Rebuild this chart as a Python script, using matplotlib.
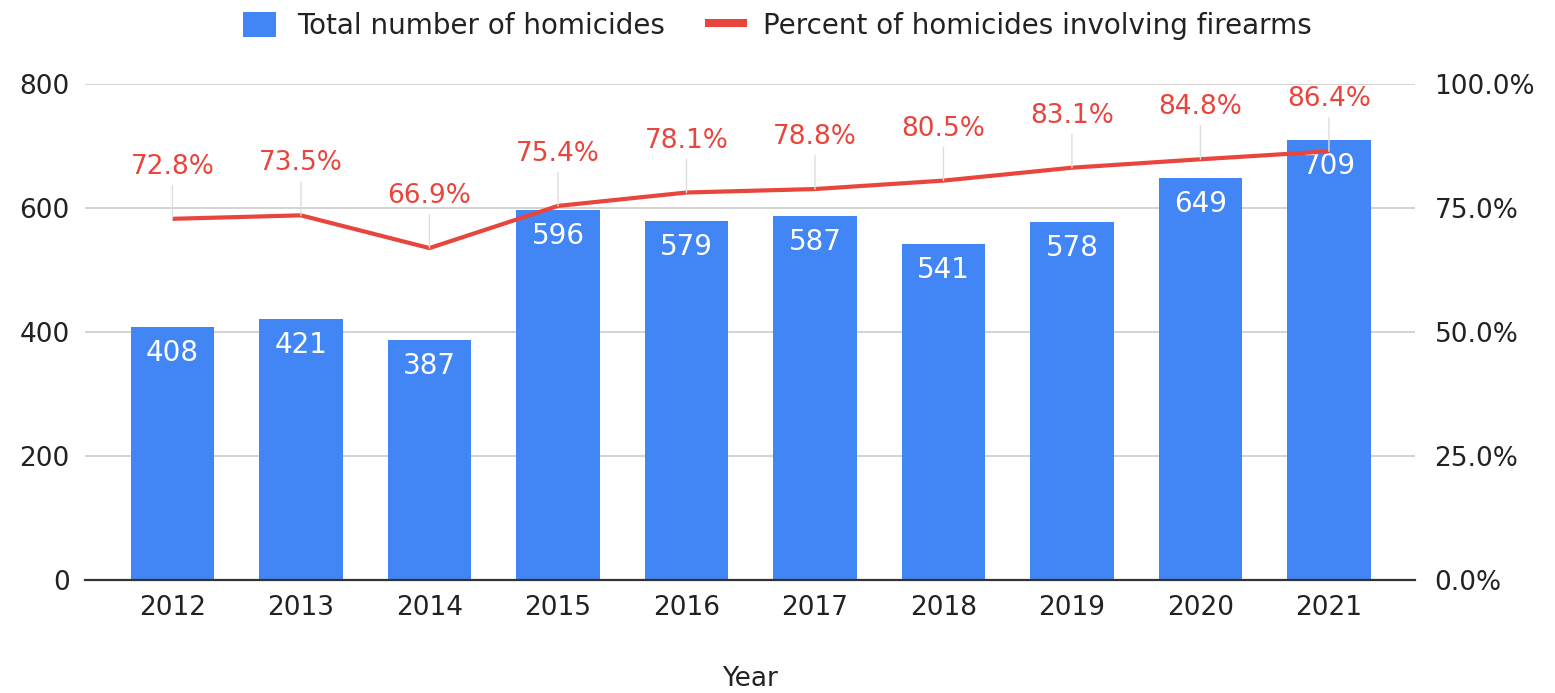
import matplotlib.pyplot as plt
from matplotlib.patches import Patch
from matplotlib.lines import Line2D

# data
years = ["2012", "2013", "2014", "2015", "2016", "2017", "2018", "2019", "2020", "2021"]
homicides = [408, 421, 387, 596, 579, 587, 541, 578, 649, 709]
pct_firearms = [72.8, 73.5, 66.9, 75.4, 78.1, 78.8, 80.5, 83.1, 84.8, 86.4]

left_ticks = [0, 200, 400, 600, 800]
right_ticks = [0, 25, 50, 75, 100]

blue = "#4285F4"
red = "#E8453C"
txt = "#222222"

plt.rcParams["font.family"] = ["DejaVu Sans"]

fig = plt.figure(figsize=(15.55, 6.93), dpi=100)
ax = fig.add_axes([0.0547, 0.163, 0.8553, 0.716])
x = list(range(len(years)))

ax.bar(x, homicides, width=0.65, color=blue, zorder=2)
ax.set_xlim(-0.68, 9.67)
ax.set_ylim(0, 800)
ax.set_yticks(left_ticks)
ax.set_xticks(x)
ax.set_xticklabels(years)
ax.grid(axis="y", color="#cccccc", lw=1.2, zorder=0)
ax.set_axisbelow(True)
for s in ("top", "left", "right"):
    ax.spines[s].set_visible(False)
ax.spines["bottom"].set_color("#333333")
ax.spines["bottom"].set_linewidth(1.6)
ax.spines["bottom"].set_zorder(3)
ax.tick_params(axis="both", length=0, labelsize=19, colors=txt)
ax.tick_params(axis="y", pad=11)
ax.tick_params(axis="x", pad=11)

for xi, v in zip(x, homicides):
    ax.annotate(str(v), (xi, v), xytext=(0, -26), textcoords="offset pixels",
                ha="center", va="center", color="white", fontsize=20, zorder=4)

ax2 = ax.twinx()
ax2.set_ylim(0, 100)
ax2.set_yticks(right_ticks)
ax2.set_yticklabels([f"{t:.1f}%" for t in right_ticks])
for s in ax2.spines.values():
    s.set_visible(False)
ax2.tick_params(axis="y", length=0, labelsize=19, colors=txt, pad=14)

ax2.plot(x, pct_firearms, color=red, lw=3, solid_capstyle="butt", zorder=3)
for xi, p in zip(x, pct_firearms):
    ax2.annotate(f"{p:.1f}%", (xi, p), xytext=(0, 52), textcoords="offset pixels",
                 ha="center", va="center", color=red, fontsize=19,
                 arrowprops=dict(arrowstyle="-", color="#dddddd", lw=1,
                                 shrinkA=2, shrinkB=0))

handles = [Patch(facecolor=blue, edgecolor="none"),
           Line2D([], [], color=red, lw=5.8)]
fig.legend(handles, ["Total number of homicides", "Percent of homicides involving firearms"],
           loc="center", bbox_to_anchor=(0.5, 0.963), ncol=2, frameon=False,
           fontsize=20, handlelength=1.2, handleheight=1.0, columnspacing=1.6,
           handletextpad=0.75, labelcolor=txt)

fig.text(0.482, 0.02, "Year", ha="center", va="center", fontsize=19, color=txt)

fig.savefig("out.png", dpi=100)
